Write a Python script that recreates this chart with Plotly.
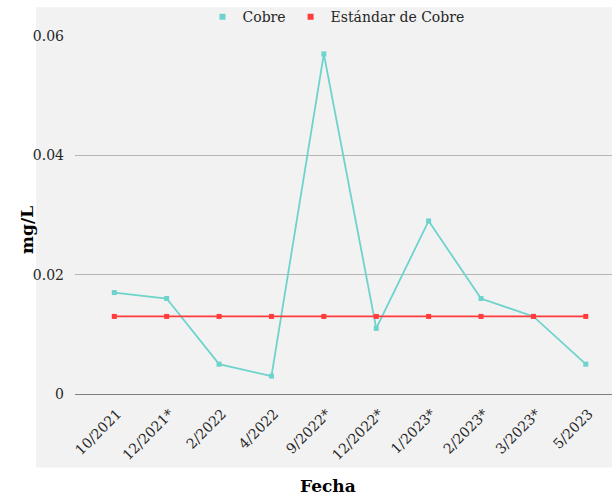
import plotly.graph_objects as go

fechas = ["10/2021", "12/2021*", "2/2022", "4/2022", "9/2022*",
          "12/2022*", "1/2023*", "2/2023*", "3/2023*", "5/2023"]
cobre = [0.017, 0.016, 0.005, 0.003, 0.057, 0.011, 0.029, 0.016, 0.013, 0.005]
estandar = [0.013] * len(fechas)
y_ticks = [0, 0.02, 0.04, 0.06]
y_tick_text = ["0", "0.02", "0.04", "0.06"]

FONT = "DejaVu Serif"
TEXT = "#262626"
C_COBRE = "#6dd3cc"
C_STD = "#ff3b3b"

fig = go.Figure()
series = [("Cobre", cobre, C_COBRE), ("Estándar de Cobre", estandar, C_STD)]
for name, vals, col in series:
    fig.add_trace(go.Scatter(
        x=fechas, y=vals, name=name, mode="lines+markers", showlegend=False,
        legendgroup=name,
        line=dict(color=col, width=1.8),
        marker=dict(symbol="square", size=5, color=col),
    ))
# legend entries show only the square marker
for name, vals, col in series:
    fig.add_trace(go.Scatter(
        x=[None], y=[None], name=name, mode="markers", legendgroup=name,
        marker=dict(symbol="square", size=6, color=col),
    ))

L, R, T, B = 75, 1, 34, 104
W, H = 613, 498
pw, ph = W - L - R, H - T - B

def px(x):
    return (x - L) / pw

def py(y):
    return (H - B - y) / ph

fig.add_shape(type="rect", xref="paper", yref="paper", layer="below",
              x0=px(36), x1=1.0, y0=py(468), y1=py(5),
              fillcolor="#f2f2f2", line=dict(width=0))

fig.update_layout(
    width=W, height=H,
    margin=dict(l=L, r=R, t=T, b=B),
    paper_bgcolor="white", plot_bgcolor="rgba(0,0,0,0)",
    font=dict(family=FONT, color=TEXT, size=13),
    showlegend=True,
    legend=dict(orientation="h", x=px(336), xanchor="center",
                y=py(15), yanchor="middle",
                font=dict(size=14, color=TEXT),
                bgcolor="rgba(0,0,0,0)", itemwidth=30, tracegroupgap=0),
    xaxis=dict(type="category", range=[-0.75, 9.5], tickangle=-45,
               showgrid=False, showline=False, zeroline=False,
               ticks="", ticklabelstandoff=8, ticklabelshift=3,
               tickfont=dict(size=14, color=TEXT)),
    yaxis=dict(range=[0, 0.06], tickvals=y_ticks, ticktext=y_tick_text,
               showgrid=True, gridcolor="#b5b5b5", gridwidth=1,
               zeroline=True, zerolinecolor="#7f7f7f", zerolinewidth=1,
               showline=False, ticks="", ticklabelstandoff=10,
               tickfont=dict(size=14, color=TEXT)),
    annotations=[
        dict(text="<b>mg/L</b>", xref="paper", yref="paper",
             x=px(27), y=py(229), textangle=-90, showarrow=False,
             font=dict(size=17, color="black", family=FONT),
             xanchor="center", yanchor="middle"),
        dict(text="<b>Fecha</b>", xref="paper", yref="paper",
             x=px(328), y=py(487), showarrow=False,
             font=dict(size=17, color="black", family=FONT),
             xanchor="center", yanchor="middle"),
    ],
)

fig.write_html("out.html")
